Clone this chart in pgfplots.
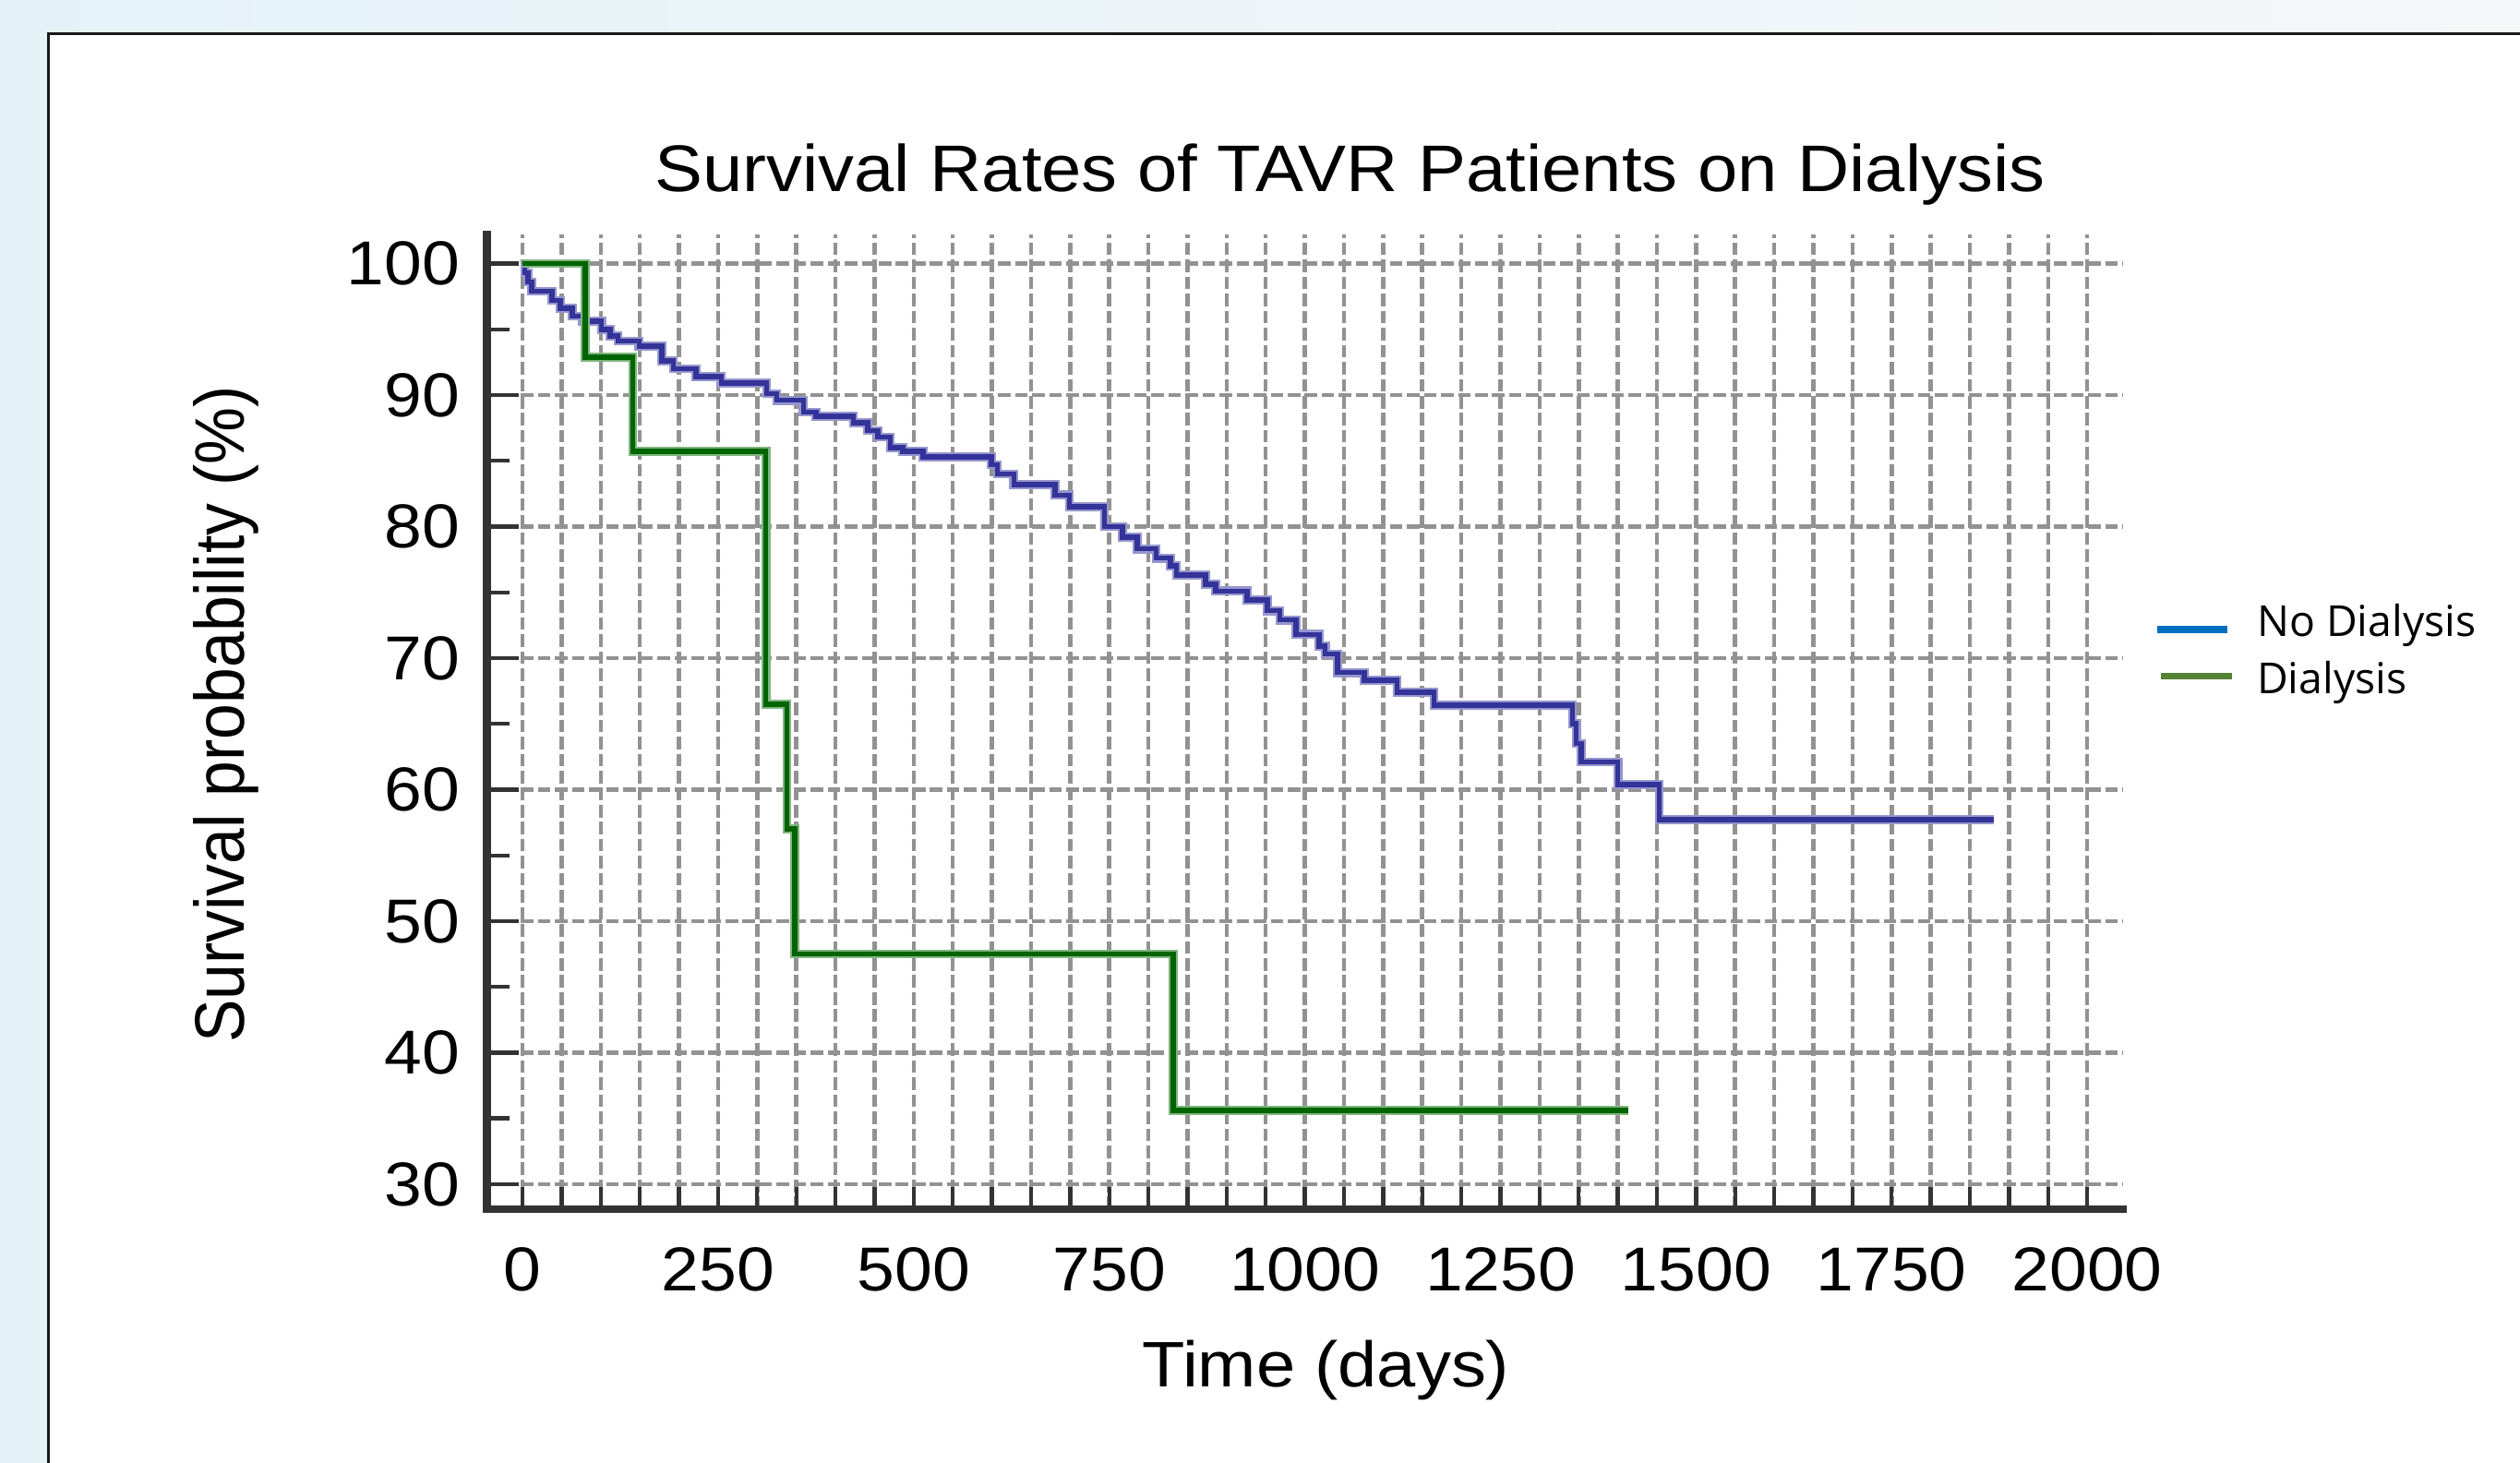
\documentclass[border=0pt]{standalone}
\usepackage{fontspec}
\setmainfont{Liberation Sans}[FakeStretch=1.09]
\newfontfamily\plainfont{Liberation Sans}
\newfontfamily\legfont{Open Sans}
\usepackage{graphicx}
\usepackage{pgfplots}
\usepackage{pgfplotstable}
\pgfplotsset{compat=1.18}

\definecolor{bluecore}{RGB}{51,51,153}
\definecolor{bluehalo}{RGB}{150,150,205}
\definecolor{greencore}{RGB}{0,100,0}
\definecolor{greenhalo}{RGB}{128,180,128}
\definecolor{gridgray}{RGB}{146,146,146}
\definecolor{axisgray}{RGB}{51,51,51}
\definecolor{legblue}{RGB}{0,112,192}
\definecolor{leggreen}{RGB}{84,130,53}
\definecolor{bgL}{RGB}{228,242,248}
\definecolor{bgR}{RGB}{245,247,249}

\pgfplotstableread{
day surv
0 100
3 99.3
7 98.6
12 97.9
38 97.2
48 96.6
64 96.0
77 95.6
101 95.0
112 94.5
122 94.1
149 93.7
178 92.6
193 92.0
222 91.4
254 90.9
312 90.1
325 89.6
359 88.7
375 88.4
423 87.9
441 87.3
454 86.8
470 86.0
486 85.7
512 85.3
599 84.7
607 84.0
628 83.2
681 82.4
699 81.5
744 80.0
767 79.2
786 78.3
810 77.6
828 77.0
836 76.3
873 75.6
886 75.1
926 74.4
952 73.6
968 72.9
989 71.8
1018 70.9
1026 70.3
1042 68.9
1076 68.3
1118 67.4
1165 66.4
1342 65.0
1347 63.5
1353 62.1
1400 60.4
1453 57.7
1881 57.7
}\nodial

\pgfplotstableread{
day surv
0 100
80 92.86
141 85.71
311 66.5
338 57.0
348 47.5
832 35.6
1414 35.6
}\dial

\begin{document}
\begin{tikzpicture}
\useasboundingbox (0,0) rectangle (784pt,455pt);
\clip (0,0) rectangle (784pt,455pt);
\shade[left color=bgL, right color=bgR] (0,0) rectangle (784pt,455pt);
\fill[white] (15pt,-5pt) rectangle (790pt,444.5pt);
\draw[line width=0.8pt, black!90] (15pt,-5pt) -- (15pt,444.5pt) -- (790pt,444.5pt);

\begin{axis}[
  at={(151.5pt,78.8pt)}, anchor=south west,
  scale only axis, width=509pt, height=303.2pt,
  xmin=-45.4, xmax=2045.8, ymin=28.1, ymax=102.2,
  axis x line=bottom, axis y line=left,
  axis line style={-, line width=2.4pt, color=axisgray, line cap=rect},
  xtick={0,250,...,2000},
  xticklabels={0,250,500,750,1000,1250,1500,1750,2000},
  minor xtick={0,50,...,2000},
  ytick={30,40,...,100},
  minor ytick={35,45,...,95},
  tick align=inside,
  major tick length=10pt, minor tick length=7pt,
  tick style={line width=1.25pt, color=axisgray},
  major x tick style={draw=none},
  xmajorgrids, xminorgrids, ymajorgrids,
  grid style={dash pattern=on 3.9pt off 1.4pt, line width=1.3pt, color=gridgray},
  major grid style={dash pattern=on 3.9pt off 1.4pt, line width=1.3pt, color=gridgray},
  minor grid style={dash pattern=on 3.9pt off 1.4pt, line width=1.3pt, color=gridgray},
  /pgf/number format/assume math mode=true,
  /pgf/number format/1000 sep={},
  ticklabel style={font=\fontsize{19.3pt}{22pt}\selectfont},
  yticklabel style={xshift=-5pt},
  xticklabel style={yshift=-8.4pt},
  clip=false,
]
\addplot[const plot, no marks, color=bluehalo, line width=2.8pt] table[x=day,y=surv]{\nodial};
\addplot[const plot, no marks, color=bluecore, line width=1.6pt] table[x=day,y=surv]{\nodial};
\addplot[const plot, no marks, color=greenhalo, line width=2.8pt] table[x=day,y=surv]{\dial};
\addplot[const plot, no marks, color=greencore, line width=1.6pt] table[x=day,y=surv]{\dial};
\end{axis}

\node[anchor=base, inner sep=0pt] at (420pt,395.5pt) {\fontsize{20.5pt}{24pt}\selectfont Survival Rates of TAVR Patients on Dialysis};
\node[anchor=base, inner sep=0pt] at (412.5pt,23.5pt) {\fontsize{20pt}{24pt}\selectfont Time (days)};
\node[rotate=90, anchor=base, inner sep=0pt] at (76pt,232.75pt) {\plainfont\fontsize{20pt}{24pt}\selectfont\scalebox{1}[1.09]{Survival probability (\%)}};

\draw[legblue, line width=2.1pt] (671pt,259.15pt) -- (693pt,259.15pt);
\draw[leggreen, line width=2.1pt] (672.3pt,244.7pt) -- (694.35pt,244.7pt);
\node[anchor=base west, inner sep=0pt] at (702pt,257pt) {\legfont\fontsize{13.3pt}{16pt}\selectfont No Dialysis};
\node[anchor=base west, inner sep=0pt] at (702pt,239.15pt) {\legfont\fontsize{13.3pt}{16pt}\selectfont Dialysis};
\end{tikzpicture}
\end{document}
